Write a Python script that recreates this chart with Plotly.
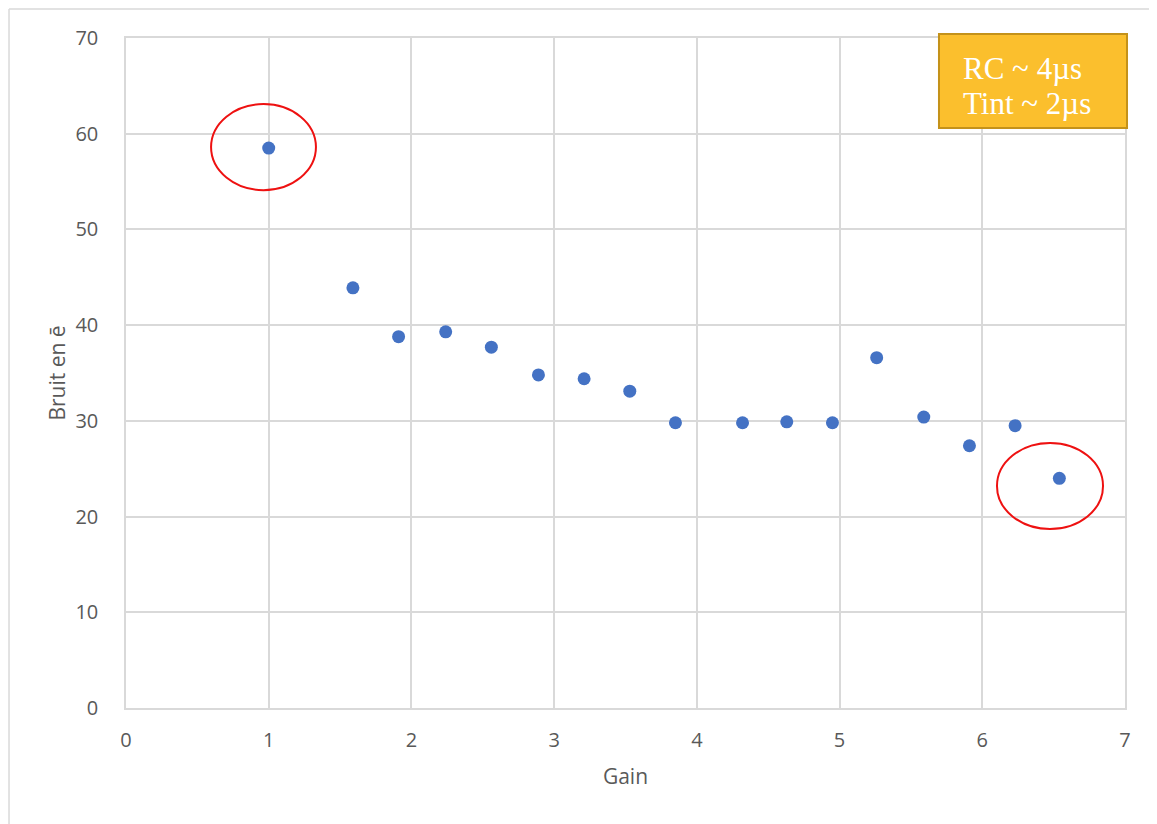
import plotly.graph_objects as go

# Noise vs gain measurements
gain = [1.0, 1.59, 1.91, 2.24, 2.56, 2.89, 3.21, 3.53, 3.85, 4.32, 4.63, 4.95, 5.26, 5.59, 5.91, 6.23, 6.54]
bruit = [58.5, 43.9, 38.8, 39.3, 37.7, 34.8, 34.4, 33.1, 29.8, 29.8, 29.9, 29.8, 36.6, 30.4, 27.4, 29.5, 24.0]

x_ticks = [0, 1, 2, 3, 4, 5, 6, 7]
y_ticks = [0, 10, 20, 30, 40, 50, 60, 70]

grid = '#d9d9d9'
tick_font = dict(family='Open Sans, sans-serif', size=20, color='#595959')
title_font = dict(family='Open Sans, sans-serif', size=21, color='#595959')
box_font = dict(family='Liberation Serif, Times New Roman, serif', size=31, color='white')

fig = go.Figure(go.Scatter(
    x=gain, y=bruit, mode='markers',
    marker=dict(color='#4472C4', size=13),
    showlegend=False
))

# Red circles around the extreme points
circles = [(0.596, 1.331, 54.1, 63.1), (6.103, 6.846, 18.7, 27.69)]
shapes = [dict(type='circle', xref='x', yref='y', x0=a, x1=b, y0=c, y1=d,
               line=dict(color='#ee1111', width=2)) for a, b, c, d in circles]

# Orange info box
shapes.append(dict(type='rect', xref='paper', yref='paper',
                   x0=0.8138, x1=1.002, y0=0.8657, y1=1.006,
                   fillcolor='#FBBF2D', line=dict(color='#C4921A', width=2), layer='above'))

# outer chart frame (left and top edges visible)
shapes.append(dict(type='line', xref='paper', yref='paper', x0=-0.1171, x1=-0.1171, y0=-0.3, y1=1.0433,
                   line=dict(color='#d9d9d9', width=1.5)))
shapes.append(dict(type='line', xref='paper', yref='paper', x0=-0.1171, x1=1.1, y0=1.0433, y1=1.0433,
                   line=dict(color='#d9d9d9', width=1.5)))

fig.update_layout(
    width=1157, height=824,
    margin=dict(l=118, r=40, t=30, b=124),
    paper_bgcolor='white', plot_bgcolor='white',
    shapes=shapes,
    annotations=[
        dict(xref='paper', yref='paper', x=0.836, y=0.9545, xanchor='left', yanchor='middle',
             text='RC ~ 4µs', showarrow=False, align='left', font=box_font),
        dict(xref='paper', yref='paper', x=0.836, y=0.902, xanchor='left', yanchor='middle',
             text='Tint ~ 2µs', showarrow=False, align='left', font=box_font),
    ],
    xaxis=dict(
        range=[0, 7], tickvals=x_ticks, showgrid=True, gridcolor=grid, gridwidth=1.5,
        zeroline=False, showline=True, linecolor=grid, linewidth=1.5, mirror=True,
        ticks='', tickfont=tick_font, ticklabelstandoff=13,
        title=dict(text='Gain', font=title_font, standoff=18),
    ),
    yaxis=dict(
        range=[0, 70], tickvals=y_ticks, showgrid=True, gridcolor=grid, gridwidth=1.5,
        zeroline=False, showline=True, linecolor=grid, linewidth=1.5, mirror=True,
        ticks='', tickfont=tick_font, ticklabelstandoff=22,
        title=dict(text='Bruit en ē', font=title_font, standoff=4),
    ),
)

fig.write_html('out.html')
